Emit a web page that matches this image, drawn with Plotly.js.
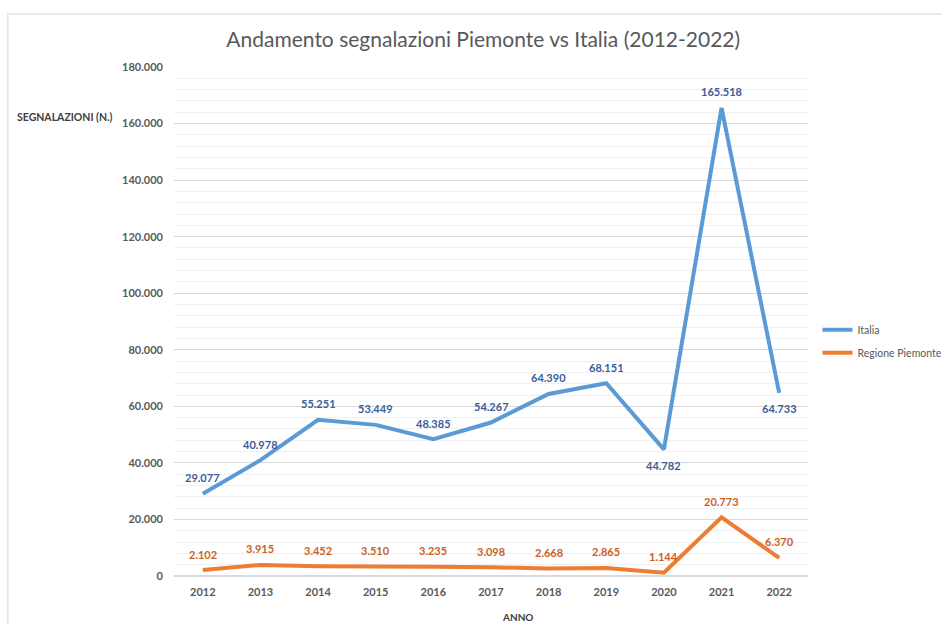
<!DOCTYPE html>
<html>
<head>
<meta charset="utf-8">
<script src="https://cdn.plot.ly/plotly-3.0.1.min.js"></script>
<style>
  html, body { margin: 0; padding: 0; background: #fff; }
  #chart { width: 942px; height: 623px; }
</style>
</head>
<body>
<div id="chart"></div>
<script>
// Anni e numero di segnalazioni
const anni = ["2012", "2013", "2014", "2015", "2016", "2017", "2018", "2019", "2020", "2021", "2022"];
const italia = [29077, 40978, 55251, 53449, 48385, 54267, 64390, 68151, 44782, 165518, 64733];
const piemonte = [2102, 3915, 3452, 3510, 3235, 3098, 2668, 2865, 1144, 20773, 6370];

// label sotto il punto per questi anni (serie Italia)
const italiaSotto = ["2020", "2022"];

const labelFont = { family: "Lato, sans-serif", size: 11, weight: 700 };

const traces = [
  {
    x: anni, y: italia, name: "Italia", type: "scatter", mode: "lines",
    line: { color: "#5b9bd5", width: 4 }, legendgroup: "a"
  },
  {
    x: anni, y: piemonte, name: "Regione Piemonte", type: "scatter", mode: "lines",
    line: { color: "#ed7d31", width: 4 }, legendgroup: "b"
  }
];

// etichette dati (x = indice della categoria)
const fmt = v => v.toLocaleString("it-IT");
const annotations = [];
anni.forEach((a, i) => {
  const sotto = italiaSotto.includes(a);
  annotations.push({
    x: i, y: italia[i], text: fmt(italia[i]), showarrow: false,
    yshift: sotto ? -16 : 16,
    font: Object.assign({ color: "#3a5d9c" }, labelFont)
  });
  annotations.push({
    x: i, y: piemonte[i], text: fmt(piemonte[i]), showarrow: false,
    yshift: 16,
    font: Object.assign({ color: "#c9621e" }, labelFont)
  });
});

// titoli degli assi
annotations.push({
  xref: "paper", yref: "paper", x: -0.172, y: 0.918, xanchor: "center",
  text: "SEGNALAZIONI (N.)", showarrow: false,
  font: { family: "Lato, sans-serif", size: 10.5, weight: 700, color: "#404040" }
});
annotations.push({
  xref: "paper", yref: "paper", x: 0.542, y: -0.08, xanchor: "center", yanchor: "middle",
  text: "ANNO", showarrow: false,
  font: { family: "Lato, sans-serif", size: 10, weight: 700, color: "#404040" }
});

const layout = {
  width: 942, height: 623,
  margin: { l: 174, r: 134, t: 67, b: 47, autoexpand: false },
  paper_bgcolor: "#fff", plot_bgcolor: "#fff",
  separators: ",.",
  title: {
    text: "Andamento segnalazioni Piemonte vs Italia (2012-2022)",
    x: 0.513, xanchor: "center", y: 0.936, yanchor: "middle",
    font: { family: "Lato, sans-serif", size: 21, color: "#595959" }
  },
  xaxis: {
    type: "category", range: [-0.5, 10.5],
    showgrid: false, zeroline: false, showline: false, ticks: "",
    ticklabelstandoff: 8,
    tickfont: { family: "Lato, sans-serif", size: 11, weight: 700, color: "#595959" }
  },
  yaxis: {
    range: [0, 180000], dtick: 20000, tickformat: ",d",
    showgrid: true, gridcolor: "#d9d9d9", gridwidth: 1,
    zeroline: true, zerolinecolor: "#d9d9d9", zerolinewidth: 1.5,
    showline: false, ticks: "", ticklabelstandoff: 10,
    minor: { dtick: 4000, showgrid: true, gridcolor: "#f0f0f0", gridwidth: 1 },
    tickfont: { family: "Lato, sans-serif", size: 11, weight: 700, color: "#595959" }
  },
  legend: {
    x: 1.015, xanchor: "left", y: 0.461, yanchor: "middle",
    itemwidth: 30, tracegroupgap: 4,
    font: { family: "Lato, sans-serif", size: 10.5, color: "#595959" }
  },
  shapes: [{
    type: "rect", xref: "paper", yref: "paper",
    x0: -0.262, x1: 1.25, y0: -0.15, y1: 1.104,
    line: { color: "#e3e3e3", width: 1.5 }, layer: "below"
  }],
  annotations: annotations
};

Plotly.newPlot("chart", traces, layout, { displayModeBar: false, staticPlot: true });
</script>
</body>
</html>
